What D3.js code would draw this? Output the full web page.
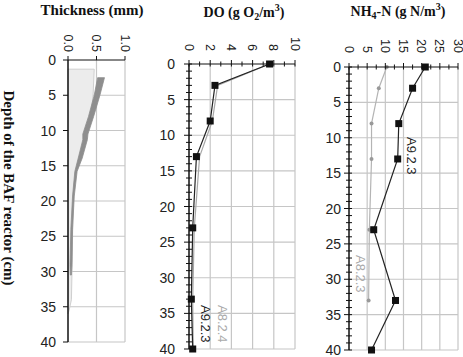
<!DOCTYPE html>
<html>
<head>
<meta charset="utf-8">
<script src="https://cdn.jsdelivr.net/npm/d3@7"></script>
<style>
  body { margin: 0; background: #fff; }
  .tl { font-family: "Liberation Sans", Arial, sans-serif; fill: #222; }
  .ttl { font-family: "Liberation Serif", "Times New Roman", serif; font-weight: bold; font-size: 14px; fill: #111; }
</style>
</head>
<body>
<div id="chart"></div>
<script>
// ---- data ----
// biofilm thickness (mm) vs depth (cm)
const filmDepth = [1.3, 5, 8, 10, 12, 14, 16, 18, 20, 25, 30, 34, 35.5, 36];
const filmEdge  = [0.46, 0.44, 0.40, 0.33, 0.26, 0.19, 0.13, 0.10, 0.09, 0.08, 0.07, 0.06, 0.02, 0];
const bandDepth = [2.5, 5, 8, 10.5, 11.3, 13.9, 15.8, 19.3, 24, 29, 30.5];
const bandLeft  = [0.52, 0.46, 0.36, 0.26, 0.26, 0.18, 0.12, 0.08, 0.05, 0.035, 0.04];
const bandRight = [0.64, 0.56, 0.45, 0.35, 0.34, 0.25, 0.16, 0.11, 0.08, 0.07, 0.06];

// DO (g O2/m3)
const doDepth = [0, 3, 8, 13, 23, 33, 40];
const doA923  = [7.6, 2.45, 2.0, 0.7, 0.35, 0.22, 0.35];
const doA824  = [7.6, 2.7, 2.2, 1.0, 0.5, 0.35, 0.4];

// NH4-N (g N/m3)
const nhDepth  = [0, 3, 8, 13, 23, 33, 40];
const nhA923   = [21, 17.5, 13.7, 13.4, 6.8, 12.8, 6.2];
const nhDepth8 = [0, 3, 8, 13, 23, 33];
const nhA823   = [10.4, 8.2, 6.2, 6.2, 5.6, 5.4];

const depthTicks = [0, 5, 10, 15, 20, 25, 30, 35, 40];

const svg = d3.select("#chart").append("svg")
      .attr("width", 463).attr("height", 357)
      .style("background", "#fff");

function make_panel(p){
      const x = d3.scaleLinear().domain(p.xdom).range(p.xr);
      const y = d3.scaleLinear().domain([0, 40]).range(p.yr);
      const g = svg.append("g");

      // grid
      g.selectAll(".vg").data(p.xgrid).join("line")
            .attr("x1", d => x(d)).attr("x2", d => x(d))
            .attr("y1", y(0)).attr("y2", y(40))
            .attr("stroke", "#c6c6c6").attr("stroke-width", 1.2);
      g.selectAll(".hg").data(depthTicks.slice(1)).join("line")
            .attr("x1", x(p.xdom[0])).attr("x2", x(p.xdom[1]))
            .attr("y1", d => y(d)).attr("y2", d => y(d))
            .attr("stroke", "#c6c6c6").attr("stroke-width", 1.2);

      const plot = g.append("g");

      // axes lines
      g.append("line").attr("x1", x(p.xdom[0])).attr("x2", x(p.xdom[1]))
            .attr("y1", y(0)).attr("y2", y(0)).attr("stroke", "#111").attr("stroke-width", 1.2);
      g.append("line").attr("x1", x(p.xdom[0])).attr("x2", x(p.xdom[0]))
            .attr("y1", y(0)).attr("y2", y(40)).attr("stroke", "#111").attr("stroke-width", 1.5);

      // y ticks (major every 5, minor crossing the axis)
      g.selectAll(".yt").data(p.yminor).join("line")
            .attr("x1", d => x(p.xdom[0]) - (d % 5 === 0 ? 5 : p.yin))
            .attr("x2", d => x(p.xdom[0]) + p.yin)
            .attr("y1", d => y(d)).attr("y2", d => y(d))
            .attr("stroke", "#111").attr("stroke-width", 1);
      // x ticks
      g.selectAll(".xt").data(p.xminor).join("line")
            .attr("x1", d => x(d)).attr("x2", d => x(d))
            .attr("y1", d => y(0) - (p.xlabels.includes(d) ? 4 : 2.5))
            .attr("y2", d => y(0) + p.xin)
            .attr("stroke", "#111").attr("stroke-width", 1);

      // y labels
      g.selectAll(".yl").data(depthTicks).join("text")
            .attr("class", "tl").attr("font-size", 14)
            .attr("x", x(p.xdom[0]) - p.ylabOff).attr("y", d => y(d))
            .attr("dy", "0.36em").attr("text-anchor", "end")
            .text(d => d);
      // x labels (rotated)
      g.selectAll(".xl").data(p.xlabels).join("text")
            .attr("class", "tl").attr("font-size", 12.5)
            .attr("text-anchor", "end").attr("dy", "0.36em")
            .attr("transform", d => "translate(" + x(d) + "," + (y(0) - p.xlabOff) + ") rotate(90)")
            .text(p.xfmt);

      return {x, y, plot};
}

// ---- panel 1: thickness ----
const p1 = make_panel({
      xdom: [0, 1], xr: [68, 125], yr: [60, 342],
      xgrid: [0.5, 1], xlabels: [0, 0.5, 1], xminor: [0, 0.5, 1],
      yminor: depthTicks, yin: 0, xin: 0,
      ylabOff: 12, xlabOff: 8, xfmt: d3.format(".1f")
});
const film = d3.area()
      .x0(p1.x(0)).x1(d => p1.x(d[1])).y(d => p1.y(d[0]));
p1.plot.append("path")
      .datum(filmDepth.map((d, i) => [d, filmEdge[i]]))
      .attr("d", film).attr("fill", "#ececec")
      .attr("stroke", "#cfcfcf").attr("stroke-width", 1);
const band = d3.area()
      .x0(d => p1.x(d[1])).x1(d => p1.x(d[2])).y(d => p1.y(d[0]));
p1.plot.append("path")
      .datum(bandDepth.map((d, i) => [d, bandLeft[i], bandRight[i]]))
      .attr("d", band).attr("fill", "#8e8e8e")
      .attr("stroke", "#8e8e8e").attr("stroke-width", 0.8);

// ---- panel 2: DO ----
const p2 = make_panel({
      xdom: [0, 10], xr: [189, 295], yr: [64, 349],
      xgrid: [2, 4, 6, 8, 10], xlabels: [0, 2, 4, 6, 8, 10], xminor: d3.range(0, 11, 1),
      yminor: d3.range(0, 41, 1), yin: 3, xin: 2.5,
      ylabOff: 14, xlabOff: 13, xfmt: d => d
});
const line2 = v => d3.line().x(d => p2.x(v[d])).y(d => p2.y(doDepth[d]));
const idx = d3.range(doDepth.length);
p2.plot.append("path").datum(idx).attr("d", line2(doA824))
      .attr("fill", "none").attr("stroke", "#a8a8a8").attr("stroke-width", 1.2);
p2.plot.append("path").datum(idx).attr("d", line2(doA923))
      .attr("fill", "none").attr("stroke", "#222").attr("stroke-width", 1.2);
p2.plot.selectAll(".m").data(idx).join("rect")
      .attr("x", d => p2.x(doA923[d]) - 3.5).attr("y", d => p2.y(doDepth[d]) - 3.5)
      .attr("width", 7).attr("height", 7).attr("fill", "#111");

// ---- panel 3: NH4-N ----
const p3 = make_panel({
      xdom: [0, 30], xr: [349, 458], yr: [67, 350],
      xgrid: [5, 10, 15, 20, 25, 30], xlabels: [0, 5, 10, 15, 20, 25, 30], xminor: d3.range(0, 31, 2.5),
      yminor: d3.range(0, 41, 1), yin: 3, xin: 2.5,
      ylabOff: 8, xlabOff: 14, xfmt: d => d
});
const idx8 = d3.range(nhDepth8.length);
p3.plot.append("path").datum(idx8)
      .attr("d", d3.line().x(d => p3.x(nhA823[d])).y(d => p3.y(nhDepth8[d])))
      .attr("fill", "none").attr("stroke", "#b4b4b4").attr("stroke-width", 1.2);
p3.plot.selectAll(".g8").data(idx8).join("circle")
      .attr("cx", d => p3.x(nhA823[d])).attr("cy", d => p3.y(nhDepth8[d]))
      .attr("r", 2).attr("fill", "#999");
const idx9 = d3.range(nhDepth.length);
p3.plot.append("path").datum(idx9)
      .attr("d", d3.line().x(d => p3.x(nhA923[d])).y(d => p3.y(nhDepth[d])))
      .attr("fill", "none").attr("stroke", "#222").attr("stroke-width", 1.2);
p3.plot.selectAll(".m9").data(idx9).join("rect")
      .attr("x", d => p3.x(nhA923[d]) - 3.5).attr("y", d => p3.y(nhDepth[d]) - 3.5)
      .attr("width", 7).attr("height", 7).attr("fill", "#111");

// ---- series labels ----
function tag(x, y, txt, col){
      svg.append("text").attr("class", "tl").attr("font-size", 13)
            .style("fill", col)
            .attr("transform", "translate(" + x + "," + y + ") rotate(90)")
            .text(txt);
}
tag(201, 305, "A9.2.3", "#222");
tag(218, 305, "A8.2.4", "#aaa");
tag(407, 137, "A9.2.3", "#222");
tag(356, 255, "A8.2.3", "#aaa");

// ---- titles ----
svg.append("text").attr("class", "ttl").attr("x", 92).attr("y", 15)
      .attr("font-size", 15).style("font-size", "15px")
      .attr("text-anchor", "middle").text("Thickness (mm)");

const t2 = svg.append("text").attr("class", "ttl").attr("x", 244).attr("y", 17).attr("text-anchor", "middle");
t2.append("tspan").text("DO (g O");
t2.append("tspan").attr("font-size", 10).attr("dy", 3).text("2");
t2.append("tspan").attr("dy", -3).text("/m");
t2.append("tspan").attr("font-size", 10).attr("dy", -6).text("3");
t2.append("tspan").attr("dy", 6).text(")");

const t3 = svg.append("text").attr("class", "ttl").attr("x", 398).attr("y", 16).attr("text-anchor", "middle");
t3.append("tspan").text("NH");
t3.append("tspan").attr("font-size", 10).attr("dy", 3).text("4");
t3.append("tspan").attr("dy", -3).text("-N (g N/m");
t3.append("tspan").attr("font-size", 10).attr("dy", -6).text("3");
t3.append("tspan").attr("dy", 6).text(")");

svg.append("text").attr("class", "ttl")
      .style("font-size", "15px")
      .attr("transform", "translate(4,188) rotate(90)")
      .attr("text-anchor", "middle")
      .text("Depth of the BAF reactor (cm)");
</script>
</body>
</html>
